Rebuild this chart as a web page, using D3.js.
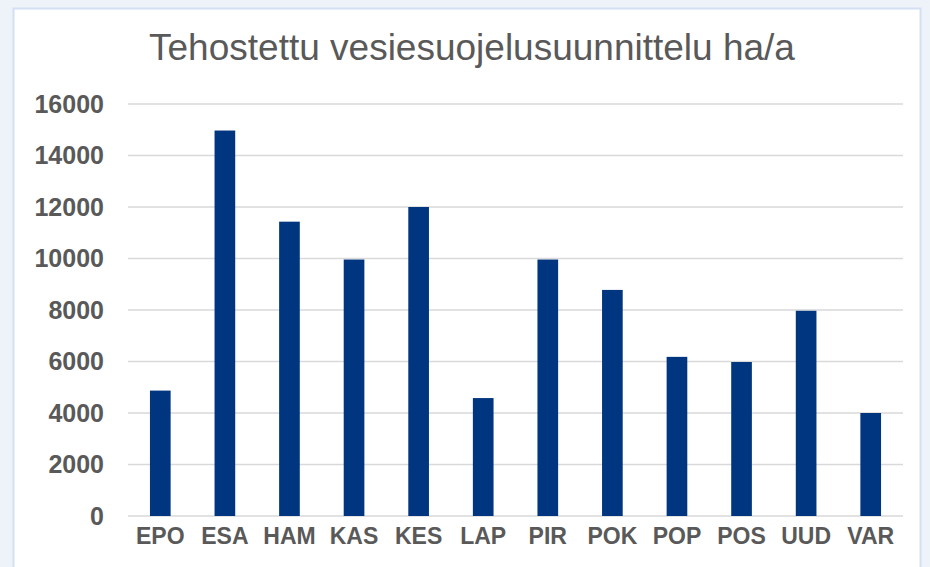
<!DOCTYPE html>
<html>
<head>
<meta charset="utf-8">
<script src="https://cdn.jsdelivr.net/npm/d3@7"></script>
<style>
  body { margin: 0; background: #edf3f8; }
  svg { display: block; }
</style>
</head>
<body>
<div id="chart"></div>
<script>
const title = "Tehostettu vesiesuojelusuunnittelu ha/a";
const categories = ["EPO", "ESA", "HAM", "KAS", "KES", "LAP", "PIR", "POK", "POP", "POS", "UUD", "VAR"];
const values = [4870, 14970, 11430, 9960, 12000, 4580, 9960, 8780, 6180, 5980, 7970, 4000];
const yTicks = [0, 2000, 4000, 6000, 8000, 10000, 12000, 14000, 16000];

const width = 930, height = 567;
const margin = { top: 104, right: 27, bottom: 51, left: 128 };
const innerW = width - margin.left - margin.right;
const innerH = height - margin.top - margin.bottom;

const svg = d3.select("#chart").append("svg")
    .attr("width", width)
    .attr("height", height);

// white chart panel
svg.append("rect")
    .attr("x", 13.5).attr("y", 8.5)
    .attr("width", 907).attr("height", 600)
    .attr("fill", "#fff")
    .attr("stroke", "#d4e0f1")
    .attr("stroke-width", 2);

svg.append("text")
    .attr("x", 472).attr("y", 60)
    .attr("text-anchor", "middle")
    .attr("font-family", "Liberation Sans, Arial, sans-serif")
    .attr("font-size", 37)
    .attr("fill", "#595959")
    .text(title);

const g = svg.append("g")
    .attr("transform", `translate(${margin.left}, ${margin.top})`);

const x = d3.scaleBand().domain(categories).range([0, innerW]).paddingInner(0.68).paddingOuter(0.34);
const y = d3.scaleLinear().domain([0, 16000]).range([innerH, 0]);

// gridlines
g.append("g")
    .selectAll("line")
    .data(yTicks)
    .join("line")
    .attr("x1", 0).attr("x2", innerW)
    .attr("y1", d => y(d)).attr("y2", d => y(d))
    .attr("stroke", "#d9d9d9")
    .attr("stroke-width", 1.5);

const yAxis = g.append("g")
    .call(d3.axisLeft(y).tickValues(yTicks).tickSize(0).tickPadding(24).tickFormat(d3.format("d")));
yAxis.select(".domain").remove();
yAxis.selectAll("text")
    .attr("font-family", "Liberation Sans, Arial, sans-serif")
    .attr("font-size", 25)
    .attr("font-weight", "bold")
    .attr("fill", "#595959");

g.append("g")
    .selectAll("rect")
    .data(categories)
    .join("rect")
    .attr("x", d => x(d))
    .attr("width", x.bandwidth())
    .attr("y", (d, i) => y(values[i]))
    .attr("height", (d, i) => innerH - y(values[i]))
    .attr("fill", "#00367f");

const xAxis = g.append("g")
    .attr("transform", `translate(0, ${innerH})`)
    .call(d3.axisBottom(x).tickSize(0).tickPadding(12));
xAxis.select(".domain").remove();
xAxis.selectAll("text")
    .attr("font-family", "Liberation Sans, Arial, sans-serif")
    .attr("font-size", 23)
    .attr("font-weight", "bold")
    .attr("fill", "#595959");
</script>
</body>
</html>
